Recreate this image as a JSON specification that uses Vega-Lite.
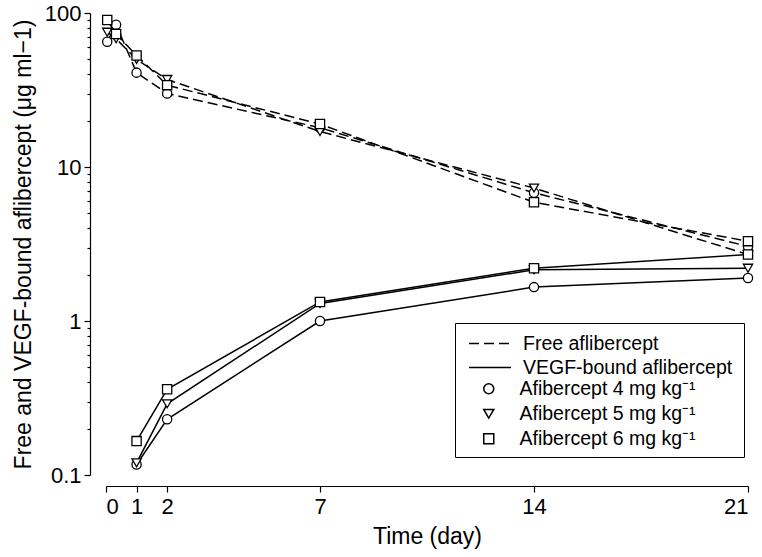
{
  "$schema": "https://vega.github.io/schema/vega-lite/v6.json",
  "width": 642,
  "height": 462,
  "autosize": {"type": "none"},
  "padding": {"left": 106, "top": 13, "right": 14, "bottom": 82},
  "config": {
    "font": "Liberation Sans",
    "view": {"stroke": null},
    "axis": {"grid": false, "domainColor": "black", "tickColor": "black", "labelColor": "black", "titleColor": "black", "titleFontWeight": "normal", "domainWidth": 1.2, "tickWidth": 1.2}
  },
  "data": {"values": [
    {"t": 0.04, "v": 65, "type": "Free aflibercept", "dose": "Afibercept 4 mg kg⁻¹"},
    {"t": 0.33, "v": 84, "type": "Free aflibercept", "dose": "Afibercept 4 mg kg⁻¹"},
    {"t": 1, "v": 41, "type": "Free aflibercept", "dose": "Afibercept 4 mg kg⁻¹"},
    {"t": 2, "v": 30, "type": "Free aflibercept", "dose": "Afibercept 4 mg kg⁻¹"},
    {"t": 7, "v": 18, "type": "Free aflibercept", "dose": "Afibercept 4 mg kg⁻¹"},
    {"t": 14, "v": 6.8, "type": "Free aflibercept", "dose": "Afibercept 4 mg kg⁻¹"},
    {"t": 21, "v": 3.05, "type": "Free aflibercept", "dose": "Afibercept 4 mg kg⁻¹"},
    {"t": 0.04, "v": 75, "type": "Free aflibercept", "dose": "Afibercept 5 mg kg⁻¹"},
    {"t": 0.33, "v": 68, "type": "Free aflibercept", "dose": "Afibercept 5 mg kg⁻¹"},
    {"t": 1, "v": 50, "type": "Free aflibercept", "dose": "Afibercept 5 mg kg⁻¹"},
    {"t": 2, "v": 37, "type": "Free aflibercept", "dose": "Afibercept 5 mg kg⁻¹"},
    {"t": 7, "v": 17, "type": "Free aflibercept", "dose": "Afibercept 5 mg kg⁻¹"},
    {"t": 14, "v": 7.3, "type": "Free aflibercept", "dose": "Afibercept 5 mg kg⁻¹"},
    {"t": 21, "v": 2.7, "type": "Free aflibercept", "dose": "Afibercept 5 mg kg⁻¹"},
    {"t": 0.04, "v": 90, "type": "Free aflibercept", "dose": "Afibercept 6 mg kg⁻¹"},
    {"t": 0.33, "v": 73, "type": "Free aflibercept", "dose": "Afibercept 6 mg kg⁻¹"},
    {"t": 1, "v": 53, "type": "Free aflibercept", "dose": "Afibercept 6 mg kg⁻¹"},
    {"t": 2, "v": 34, "type": "Free aflibercept", "dose": "Afibercept 6 mg kg⁻¹"},
    {"t": 7, "v": 19, "type": "Free aflibercept", "dose": "Afibercept 6 mg kg⁻¹"},
    {"t": 14, "v": 5.9, "type": "Free aflibercept", "dose": "Afibercept 6 mg kg⁻¹"},
    {"t": 21, "v": 3.3, "type": "Free aflibercept", "dose": "Afibercept 6 mg kg⁻¹"},
    {"t": 1, "v": 0.117, "type": "VEGF-bound aflibercept", "dose": "Afibercept 4 mg kg⁻¹"},
    {"t": 2, "v": 0.23, "type": "VEGF-bound aflibercept", "dose": "Afibercept 4 mg kg⁻¹"},
    {"t": 7, "v": 1.0, "type": "VEGF-bound aflibercept", "dose": "Afibercept 4 mg kg⁻¹"},
    {"t": 14, "v": 1.66, "type": "VEGF-bound aflibercept", "dose": "Afibercept 4 mg kg⁻¹"},
    {"t": 21, "v": 1.9, "type": "VEGF-bound aflibercept", "dose": "Afibercept 4 mg kg⁻¹"},
    {"t": 1, "v": 0.12, "type": "VEGF-bound aflibercept", "dose": "Afibercept 5 mg kg⁻¹"},
    {"t": 2, "v": 0.29, "type": "VEGF-bound aflibercept", "dose": "Afibercept 5 mg kg⁻¹"},
    {"t": 7, "v": 1.3, "type": "VEGF-bound aflibercept", "dose": "Afibercept 5 mg kg⁻¹"},
    {"t": 14, "v": 2.15, "type": "VEGF-bound aflibercept", "dose": "Afibercept 5 mg kg⁻¹"},
    {"t": 21, "v": 2.2, "type": "VEGF-bound aflibercept", "dose": "Afibercept 5 mg kg⁻¹"},
    {"t": 1, "v": 0.166, "type": "VEGF-bound aflibercept", "dose": "Afibercept 6 mg kg⁻¹"},
    {"t": 2, "v": 0.36, "type": "VEGF-bound aflibercept", "dose": "Afibercept 6 mg kg⁻¹"},
    {"t": 7, "v": 1.33, "type": "VEGF-bound aflibercept", "dose": "Afibercept 6 mg kg⁻¹"},
    {"t": 14, "v": 2.2, "type": "VEGF-bound aflibercept", "dose": "Afibercept 6 mg kg⁻¹"},
    {"t": 21, "v": 2.7, "type": "VEGF-bound aflibercept", "dose": "Afibercept 6 mg kg⁻¹"}
  ]},
  "encoding": {
    "x": {"field": "t", "type": "quantitative", "scale": {"domain": [0, 21], "nice": false, "zero": false},
      "axis": {"values": [0, 1, 2, 7, 14, 21], "title": "Time (day)", "offset": 11, "tickSize": 6, "labelFontSize": 22, "labelPadding": 4, "titleFontSize": 23, "titlePadding": 8}},
    "y": {"field": "v", "type": "quantitative", "scale": {"type": "log", "domain": [0.1, 100], "nice": false},
      "axis": {"values": [0.1,0.2,0.3,0.4,0.5,0.6,0.7,0.8,0.9,1,2,3,4,5,6,7,8,9,10,20,30,40,50,60,70,80,90,100],
        "labelExpr": "datum.value == 0.1 ? '0.1' : datum.value == 1 ? '1' : datum.value == 10 ? '10' : datum.value == 100 ? '100' : ''",
        "tickSize": {"condition": {"test": "datum.value == 0.1 || datum.value == 1 || datum.value == 10 || datum.value == 100", "value": 6}, "value": 3},
        "offset": 16, "labelFontSize": 22, "labelPadding": 3, "labelFlush": false, "labelOverlap": false,
        "title": "Free and VEGF-bound aflibercept (μg ml−1)", "titleFontSize": 23, "titlePadding": 9}}
  },
  "layer": [
    {
      "mark": {"type": "line", "color": "black", "strokeWidth": 1.5},
      "encoding": {
        "strokeDash": {"field": "type", "type": "nominal",
          "scale": {"domain": ["Free aflibercept", "VEGF-bound aflibercept"], "range": [[10, 5], [2000, 1]]},
          "legend": {"title": " ", "titleOrient": "bottom", "titleFontSize": 40, "titlePadding": 29,
            "orient": "none", "legendX": 349, "legendY": 310, "padding": 11, "clipHeight": 19,
            "strokeColor": "black", "fillColor": "transparent",
            "symbolType": "stroke", "symbolSize": 1764, "symbolStrokeWidth": 1.5, "symbolStrokeColor": "black",
            "symbolOffset": 2, "labelOffset": 11, "labelFontSize": 19.5, "labelColor": "black", "rowPadding": 4, "labelLimit": 400}},
        "detail": {"field": "dose", "type": "nominal"}
      }
    },
    {
      "mark": {"type": "point", "color": "black", "fill": "white", "strokeWidth": 1.3, "size": 85, "opacity": 1},
      "encoding": {
        "shape": {"field": "dose", "type": "nominal",
          "scale": {"domain": ["Afibercept 4 mg kg⁻¹", "Afibercept 5 mg kg⁻¹", "Afibercept 6 mg kg⁻¹"],
            "range": ["circle", "triangle-down", "square"]},
          "legend": {"title": null, "orient": "none", "legendX": 373, "legendY": 366,
            "labelOffset": 21, "labelFontSize": 19.5, "labelColor": "black", "rowPadding": 4, "labelLimit": 400}}
      }
    }
  ]
}
